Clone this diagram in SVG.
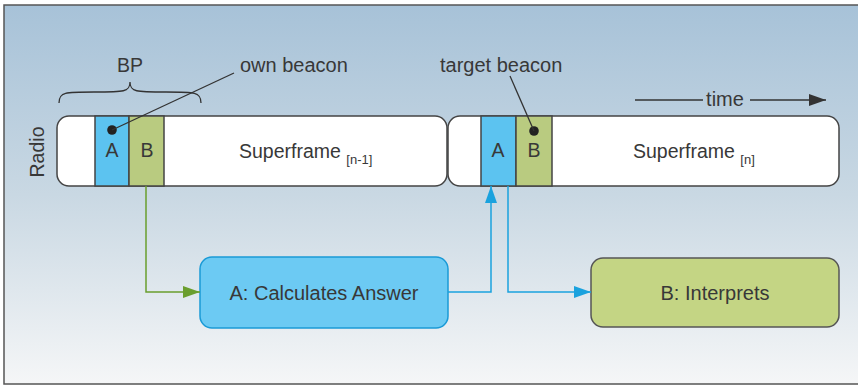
<svg xmlns="http://www.w3.org/2000/svg" width="858" height="386" viewBox="0 0 858 386">
<defs>
<linearGradient id="bg" x1="0" y1="0" x2="0" y2="1">
<stop offset="0" stop-color="#a7c2d8"/>
<stop offset="0.5" stop-color="#c9d8e3"/>
<stop offset="1" stop-color="#f5f6f7"/>
</linearGradient>
<marker id="ab" markerWidth="18" markerHeight="12" refX="17" refY="6" orient="auto" markerUnits="userSpaceOnUse">
<path d="M0,0 L17,6 L0,12 Z" fill="#1aa2de"/>
</marker>
<marker id="agr" markerWidth="18" markerHeight="12" refX="17" refY="6" orient="auto" markerUnits="userSpaceOnUse">
<path d="M0,0 L17,6 L0,12 Z" fill="#6a9e2e"/>
</marker>
<marker id="ak" markerWidth="18" markerHeight="12" refX="17" refY="6" orient="auto" markerUnits="userSpaceOnUse">
<path d="M0,0 L17,6 L0,12 Z" fill="#333"/>
</marker>
</defs>
<style>
text{font-family:"Liberation Sans",Arial,sans-serif;fill:#383838;}
.lbl{font-size:19.5px;}
.big{font-size:20px;}
.sub{font-size:13px;}
.frame{fill:#fff;stroke:#444;stroke-width:1.5;}
.ca{fill:#5cc3f0;stroke:#444;stroke-width:1.5;}
.cb{fill:#b9cb80;stroke:#444;stroke-width:1.5;}
.thin{stroke:#333;stroke-width:1.3;fill:none;}
</style>
<rect x="4" y="5" width="860" height="379" fill="url(#bg)" stroke="#555" stroke-width="1.5"/>

<text class="lbl" transform="translate(44,152) rotate(-90)" text-anchor="middle">Radio</text>

<g id="sf1">
<rect class="frame" x="57" y="116" width="390" height="70" rx="12"/>
<rect class="ca" x="95" y="116" width="34" height="70"/>
<rect class="cb" x="129" y="116" width="35" height="70"/>
<text class="lbl" x="112" y="157" text-anchor="middle">A</text>
<text class="lbl" x="147" y="157" text-anchor="middle">B</text>
<text class="lbl" x="239" y="158">Superframe <tspan class="sub" dy="6">[n-1]</tspan></text>
</g>

<g id="sf2">
<rect class="frame" x="448" y="116" width="391" height="70" rx="12"/>
<rect class="ca" x="481" y="116" width="35" height="70"/>
<rect class="cb" x="516" y="116" width="36" height="70"/>
<text class="lbl" x="498" y="157" text-anchor="middle">A</text>
<text class="lbl" x="534" y="157" text-anchor="middle">B</text>
<text class="lbl" x="633" y="158">Superframe <tspan class="sub" dy="6">[n]</tspan></text>
</g>

<g id="bp">
<path class="thin" d="M59,103 C59,92 65,92 94,92 C124,92 130,92 130,82 C130,92 136,92 166,92 C195,92 201,92 201,103"/>
<text class="lbl" x="130" y="72" text-anchor="middle">BP</text>
</g>

<g id="own-beacon">
<circle cx="112" cy="130" r="4.8" fill="#222"/>
<line class="thin" x1="112" y1="130" x2="234" y2="73"/>
<text class="big" x="240" y="72">own beacon</text>
</g>

<g id="target-beacon">
<circle cx="534" cy="131" r="4.8" fill="#222"/>
<line class="thin" x1="534" y1="131" x2="510" y2="76"/>
<text class="big" x="440" y="72">target beacon</text>
</g>

<g id="time">
<line class="thin" x1="635" y1="100" x2="703" y2="100"/>
<text class="big" x="725" y="106" text-anchor="middle">time</text>
<line class="thin" x1="750" y1="100" x2="826" y2="100" marker-end="url(#ak)"/>
</g>

<g id="nodeA">
<rect x="200" y="257" width="248" height="71" rx="12" fill="#6ccaf3" stroke="#1a9ad6" stroke-width="1.5"/>
<text class="big" x="324" y="300" text-anchor="middle">A: Calculates Answer</text>
</g>

<g id="nodeB">
<rect x="591" y="258" width="248" height="69" rx="12" fill="#c4d584" stroke="#555" stroke-width="1.5"/>
<text class="big" x="715" y="300" text-anchor="middle">B: Interprets</text>
</g>

<g id="connectors" fill="none" stroke-width="1.5">
<path d="M146,186 V292 H200" stroke="#6a9e2e" marker-end="url(#agr)"/>
<path d="M448,292 H491 V186" stroke="#1aa2de" marker-end="url(#ab)"/>
<path d="M508,186 V292 H591" stroke="#1aa2de" marker-end="url(#ab)"/>
</g>
</svg>
